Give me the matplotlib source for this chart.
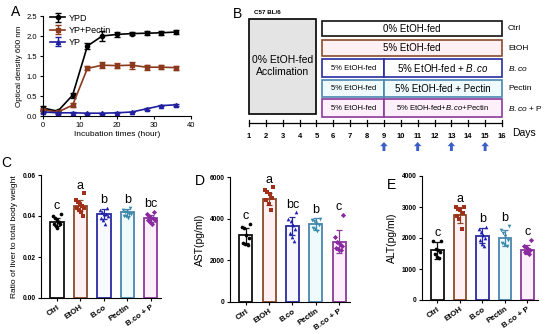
import numpy as np
import matplotlib
matplotlib.use('Agg')
import matplotlib.pyplot as plt
import matplotlib.patches as mpatches

plt.rcParams['font.family'] = ['Liberation Sans', 'DejaVu Sans']
plt.rcParams['mathtext.fontset'] = 'custom'
plt.rcParams['mathtext.rm'] = 'Liberation Sans'
plt.rcParams['mathtext.it'] = 'Liberation Sans:italic'
plt.rcParams['mathtext.bf'] = 'Liberation Sans:bold:italic'

# ---- panel A data: growth curves
hours = [0, 4, 8, 12, 16, 20, 24, 28, 32, 36]
ypd = [0.20, 0.12, 0.52, 1.75, 2.00, 2.04, 2.06, 2.07, 2.08, 2.10]
ypd_err = [0.04, 0.03, 0.06, 0.08, 0.12, 0.06, 0.04, 0.05, 0.05, 0.05]
yp_pectin = [0.15, 0.10, 0.27, 1.19, 1.27, 1.26, 1.27, 1.22, 1.22, 1.21]
yp_pectin_err = [0.03, 0.03, 0.05, 0.05, 0.07, 0.07, 0.09, 0.06, 0.05, 0.05]
yp = [0.10, 0.08, 0.08, 0.07, 0.07, 0.08, 0.10, 0.18, 0.26, 0.28]
yp_err = [0.02, 0.02, 0.01, 0.01, 0.01, 0.01, 0.01, 0.02, 0.02, 0.02]

# ---- panel B schematic
days = list(range(1, 17))
arrow_days = [9, 11, 13, 15]
group_names = ['Ctrl', 'EtOH', 'B.co', 'Pectin', 'B.co + P']
group_labels = ['Ctrl', 'EtOH', r'$\mathit{B.co}$', 'Pectin', r'$\mathit{B.co}$ + P']
schedule_right = ['0% EtOH-fed', '5% EtOH-fed', r'5% EtOH-fed + $\mathit{B.co}$',
                  '5% EtOH-fed + Pectin', r'5% EtOH-fed+$\mathit{B.co}$+Pectin']
schedule_left = [None, None, '5% EtOH-fed', '5% EtOH-fed', '5% EtOH-fed']

# ---- panels C-E data
liver_mean = [0.037, 0.045, 0.041, 0.0418, 0.039]
liver_sd = [0.002, 0.0028, 0.0025, 0.0017, 0.0017]
liver_pts = [
    [0.041, 0.040, 0.039, 0.038, 0.037, 0.036, 0.036, 0.035, 0.034, 0.037],
    [0.051, 0.048, 0.047, 0.046, 0.045, 0.044, 0.044, 0.043, 0.042, 0.040],
    [0.044, 0.043, 0.042, 0.041, 0.041, 0.040, 0.039, 0.038, 0.036],
    [0.044, 0.043, 0.042, 0.042, 0.041, 0.041, 0.040, 0.040, 0.039],
    [0.042, 0.041, 0.040, 0.039, 0.039, 0.038, 0.038, 0.037, 0.036],
]
liver_letters = ['c', 'a', 'b', 'b', 'bc']

ast_mean = [3200, 4950, 3650, 3750, 2900]
ast_sd = [350, 300, 450, 300, 550]
ast_pts = [
    [3750, 3600, 3550, 3200, 3050, 2850, 2800, 2750],
    [5500, 5400, 5300, 5200, 5000, 4900, 4700, 4400],
    [4300, 4000, 3900, 3700, 3500, 3300, 3100, 2950],
    [4000, 3950, 3900, 3800, 3700, 3550, 3500, 3400],
    [4200, 3100, 2900, 2800, 2700, 2600, 2550, 2500],
]
ast_letters = ['c', 'a', 'bc', 'b', 'c']

alt_mean = [1600, 2750, 2080, 2000, 1620]
alt_sd = [270, 250, 250, 250, 150]
alt_pts = [
    [1900, 1900, 1650, 1600, 1550, 1500, 1400, 1350],
    [3000, 3000, 2950, 2900, 2800, 2700, 2600, 2300],
    [2350, 2300, 2200, 2100, 2000, 1950, 1800, 1750],
    [2400, 2250, 2150, 2050, 1950, 1850, 1800, 1750],
    [1950, 1750, 1700, 1650, 1600, 1550, 1550, 1500],
]
alt_letters = ['c', 'a', 'b', 'b', 'c']

edge_colors = ['#111111', '#8a4a2a', '#2a2aa0', '#4a86b0', '#8a3a9a']
fill_colors = ['#ffffff', '#fff0f4', '#f8f8ff', '#eefafc', '#fdf0fa']
pt_colors = ['#000000', '#a0301a', '#2020b0', '#3a8aa8', '#8a2aa0']
pt_markers = ['o', 's', '^', 'v', 'D']

W, H = 550, 334
fig = plt.figure(figsize=(W / 100, H / 100), dpi=100, facecolor='w')


def px_axes(l, t, r, b):
    return fig.add_axes([l / W, 1 - b / H, (r - l) / W, (b - t) / H])


# ================= A
ax = px_axes(43, 16, 191, 116)
kw = dict(ms=3, lw=1.2, capsize=2, elinewidth=1, clip_on=False)
ax.errorbar(hours, ypd, yerr=ypd_err, color='black', marker='o', label='YPD', **kw)
ax.errorbar(hours, yp_pectin, yerr=yp_pectin_err, color='#8b3a1e', marker='s',
            label='YP+Pectin', **kw)
ax.errorbar(hours, yp, yerr=yp_err, color='#1f1fa0', marker='^', label='YP', **kw)
ax.set_xlim(0, 40)
ax.set_ylim(0, 2.5)
ax.spines['top'].set_visible(False)
ax.spines['right'].set_visible(False)
ax.set_xticks([0, 10, 20, 30, 40])
ax.set_yticks([0, 0.5, 1.0, 1.5, 2.0, 2.5])
ax.set_yticklabels(['0.0', '0.5', '1.0', '1.5', '2.0', '2.5'])
ax.tick_params(labelsize=5.5, length=2.5, width=0.8, pad=1.5)
ax.set_xlabel('Incubation times (hour)', fontsize=6, labelpad=2)
ax.set_ylabel('Optical density 600 nm', fontsize=5.8, labelpad=3)
ax.legend(loc='upper left', bbox_to_anchor=(0.02, 1.07), frameon=False, fontsize=6.5,
          handlelength=1.6, handletextpad=0.4, labelspacing=0.35, borderpad=0)
fig.text(16 / W, 1 - 12 / H, 'A', fontsize=10, va='center', ha='center')

# ================= B
axb = px_axes(249, 0, 502, 160)
axb.set_xlim(1, 16)
axb.set_ylim(160, 0)
axb.axis('off')
axb.add_patch(mpatches.Rectangle((1, 19), 4, 95, facecolor='#e4e4e4', edgecolor='black',
                                 lw=1.2, clip_on=False))
axb.text(3, 66, '0% EtOH-fed\nAcclimation', ha='center', va='center', fontsize=7.5,
         linespacing=1.2)
axb.text(1.3, 12, 'C57 BL/6', fontsize=4.5, fontweight='bold', va='center')
fig.text(238 / W, 1 - 14 / H, 'B', fontsize=10, va='center', ha='center')

rows = [(21, 36), (40, 56), (59, 77), (80, 97), (99, 117)]
x0, xs, x1 = 5.35, 9.0, 16.0
for i, (t, b) in enumerate(rows):
    ec, fc = edge_colors[i], fill_colors[i]
    if i == 2:
        fc = '#ffffff'
    if schedule_left[i] is None:
        axb.add_patch(mpatches.Rectangle((x0, t), x1 - x0, b - t, facecolor=fc,
                                         edgecolor=ec, lw=1.2, clip_on=False))
        axb.text((x0 + x1) / 2, (t + b) / 2, schedule_right[i], ha='center',
                 va='center', fontsize=7)
    else:
        axb.add_patch(mpatches.Rectangle((x0, t), xs - x0, b - t, facecolor=fc,
                                         edgecolor=ec, lw=1.2, clip_on=False))
        axb.add_patch(mpatches.Rectangle((xs, t), x1 - xs, b - t, facecolor=fc,
                                         edgecolor=ec, lw=1.2, clip_on=False))
        axb.text((x0 + xs) / 2, (t + b) / 2, schedule_left[i], ha='center',
                 va='center', fontsize=5.5)
        axb.text((xs + x1) / 2, (t + b) / 2, schedule_right[i], ha='center',
                 va='center', fontsize=5.5 if i == 4 else 7)
    axb.text(16.35, (t + b) / 2 + 0.5, group_labels[i], ha='left', va='center', fontsize=6)

axb.plot([1, 16], [123, 123], color='black', lw=0.9, clip_on=False)
for d in days:
    axb.plot([d, d], [120, 126], color='black', lw=0.9, clip_on=False)
    axb.text(d, 136, str(d), ha='center', va='center', fontsize=5.5, fontweight='bold')
axb.text(16.6, 133, 'Days', ha='left', va='center', fontsize=7.5)
for d in arrow_days:
    axb.annotate('', xy=(d, 142), xytext=(d, 151),
                 arrowprops=dict(arrowstyle='simple,head_length=0.5,head_width=0.9,tail_width=0.35',
                                 mutation_scale=6, color='#3a5fc8', lw=0,
                                 shrinkA=0, shrinkB=0), annotation_clip=False)


# ================= C, D, E
def bar_panel(box, means, sds, pts, letters, ylim, yticks, yticklabels, ylabel,
              ylabel_fs, letter_off, panel, ppos):
    ax = px_axes(*box)
    x = np.arange(len(means))
    for i in range(len(means)):
        ax.bar(x[i], means[i], width=0.56, facecolor=fill_colors[i],
               edgecolor=edge_colors[i], lw=1.3, zorder=1)
        ax.errorbar(x[i], means[i], yerr=sds[i], color=edge_colors[i], capsize=2,
                    elinewidth=0.9, capthick=0.9, zorder=3)
        n = len(pts[i])
        off = np.linspace(-0.17, 0.17, n)
        off = np.roll(off[::2].tolist() + off[1::2].tolist(), 1)
        ax.scatter(x[i] + off, pts[i], s=7, marker=pt_markers[i], color=pt_colors[i],
                   zorder=4, linewidths=0)
        top = means[i] + sds[i]
        ax.text(x[i], max(top, max(pts[i])) + letter_off, letters[i], ha='center',
                va='bottom', fontsize=9)
    ax.set_xlim(-0.68, 4.6)
    ax.set_ylim(*ylim)
    ax.spines['top'].set_visible(False)
    ax.spines['right'].set_visible(False)
    ax.spines['bottom'].set_bounds(-0.68, 4.45)
    ax.set_yticks(yticks)
    ax.set_yticklabels(yticklabels, fontweight='bold')
    ax.set_xticks(x)
    ax.set_xticklabels(group_names, rotation=35, ha='right', rotation_mode='anchor',
                       fontweight='bold')
    ax.tick_params(axis='y', labelsize=4.8, length=2.5, width=0.8, pad=1.5)
    ax.tick_params(axis='x', labelsize=5.8, length=2.5, width=0.8, pad=1.5)
    ax.set_ylabel(ylabel, fontsize=ylabel_fs, labelpad=3)
    fig.text(ppos[0] / W, 1 - ppos[1] / H, panel, fontsize=10, va='center', ha='center')
    return ax


bar_panel((41, 175, 165, 298), liver_mean, liver_sd, liver_pts, liver_letters,
          (0, 0.06), [0, 0.02, 0.04, 0.06], ['0.00', '0.02', '0.04', '0.06'],
          'Ratio of liver to total body weight', 6, 0.0008, 'C', (6, 163))
bar_panel((230, 177, 353, 302), ast_mean, ast_sd, ast_pts, ast_letters,
          (0, 6000), [0, 2000, 4000, 6000], ['0', '2000', '4000', '6000'],
          'AST(pg/ml)', 7.5, 80, 'D', (200, 181))
bar_panel((422, 176, 541, 300), alt_mean, alt_sd, alt_pts, alt_letters,
          (0, 4000), [0, 1000, 2000, 3000, 4000], ['0', '1000', '2000', '3000', '4000'],
          'ALT(pg/ml)', 7.5, 60, 'E', (392, 185))

fig.savefig('out.png', dpi=100, facecolor='w')
